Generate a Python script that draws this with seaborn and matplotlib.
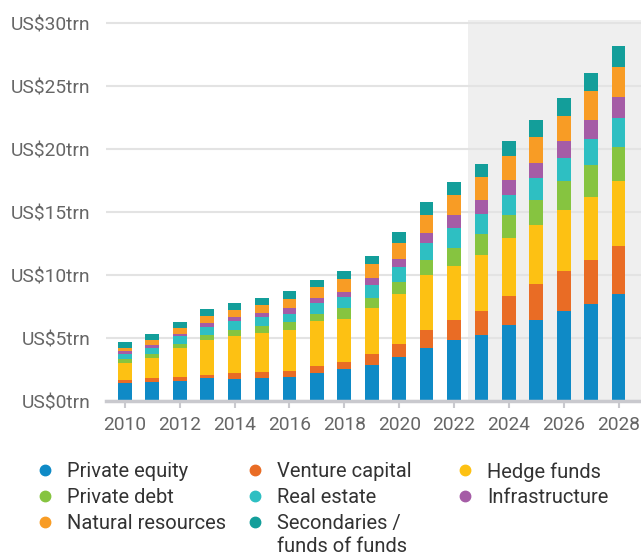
import numpy as np
import pandas as pd
import seaborn as sns
import matplotlib
matplotlib.use("Agg")
import matplotlib.pyplot as plt
from matplotlib.lines import Line2D

years = list(range(2010, 2029))
private_equity = [1.43, 1.51, 1.59, 1.83, 1.75, 1.83, 1.90, 2.22, 2.54, 2.86, 3.49, 4.21, 4.84, 5.24, 6.03, 6.43, 7.14, 7.70, 8.49]
venture_capital = [0.24, 0.32, 0.32, 0.24, 0.48, 0.48, 0.48, 0.56, 0.56, 0.87, 1.03, 1.43, 1.59, 1.90, 2.30, 2.86, 3.17, 3.49, 3.81]
hedge_funds = [1.35, 1.59, 2.30, 2.78, 2.94, 3.10, 3.25, 3.57, 3.41, 3.65, 3.97, 4.37, 4.29, 4.44, 4.60, 4.68, 4.84, 5.00, 5.16]
private_debt = [0.32, 0.32, 0.32, 0.40, 0.48, 0.56, 0.63, 0.56, 0.87, 0.79, 0.95, 1.19, 1.43, 1.67, 1.83, 1.98, 2.30, 2.54, 2.70]
real_estate = [0.40, 0.48, 0.63, 0.63, 0.71, 0.71, 0.63, 0.87, 0.87, 1.03, 1.19, 1.35, 1.59, 1.59, 1.59, 1.75, 1.83, 2.06, 2.30]
infrastructure = [0.24, 0.24, 0.16, 0.32, 0.32, 0.32, 0.48, 0.40, 0.40, 0.56, 0.63, 0.79, 1.03, 1.11, 1.19, 1.19, 1.35, 1.51, 1.67]
natural_resources = [0.26, 0.40, 0.48, 0.56, 0.56, 0.63, 0.71, 0.87, 1.03, 1.11, 1.27, 1.43, 1.59, 1.83, 1.90, 2.06, 1.98, 2.30, 2.38]
secondaries = [0.45, 0.48, 0.48, 0.56, 0.56, 0.56, 0.63, 0.56, 0.63, 0.63, 0.87, 1.03, 1.03, 1.03, 1.19, 1.35, 1.43, 1.43, 1.67]

series_names = ["Private equity", "Venture capital", "Hedge funds", "Private debt",
                "Real estate", "Infrastructure", "Natural resources",
                "Secondaries /\nfunds of funds"]
series_values = [private_equity, venture_capital, hedge_funds, private_debt,
                 real_estate, infrastructure, natural_resources, secondaries]
colors = ["#0f8ac6", "#e96c25", "#fdc113", "#86c440",
          "#2ebfc2", "#a55ca6", "#f89c25", "#139e9a"]
y_ticks = [0, 5, 10, 15, 20, 25, 30]
y_tick_labels = ["US$0trn", "US$5trn", "US$10trn", "US$15trn", "US$20trn", "US$25trn", "US$30trn"]
x_ticks = [2010, 2012, 2014, 2016, 2018, 2020, 2022, 2024, 2026, 2028]

sns.set_theme(style="white")
plt.rcParams["font.family"] = ["Roboto", "DejaVu Sans"]

df = pd.DataFrame({"year": years})
cum = np.zeros(len(years))
cum_cols = []
for i, vals in enumerate(series_values):
    cum = cum + np.array(vals)
    df[f"cum{i}"] = cum
    cum_cols.append(f"cum{i}")

W, H = 641, 555
fig = plt.figure(figsize=(W / 100, H / 100), dpi=100)
ax = fig.add_axes([106 / W, (H - 401) / H, (W - 106) / W + 0.01, (401 - 20) / H])

ax.axvspan(2022.5, 2031, color="#efefef", zorder=0, lw=0)

for i in reversed(range(len(series_values))):
    sns.barplot(data=df, x="year", y=cum_cols[i], color=colors[i], saturation=1,
                width=0.5, native_scale=True, errorbar=None, linewidth=0,
                edgecolor="none", ax=ax)

ax.set_xlim(2009.31, 2028.82 + 0.01 * W / 27.44)
ax.set_ylim(0, 30.24)
ax.set_yticks(y_ticks)
ax.set_yticklabels(y_tick_labels)
ax.set_xticks(x_ticks)
ax.set_xticklabels([str(x) for x in x_ticks])
ax.set_xlabel("")
ax.set_ylabel("")
ax.yaxis.grid(True, color="#e3e3e3", lw=1.5)
ax.xaxis.grid(False)
ax.set_axisbelow(True)
for s in ["top", "right", "left"]:
    ax.spines[s].set_visible(False)
ax.spines["bottom"].set_color("#c9c9ce")
ax.spines["bottom"].set_linewidth(2.5)
ax.tick_params(axis="y", length=0, pad=11.5, labelsize=13.8, labelcolor="#666666")
ax.tick_params(axis="x", length=5, width=1.5, color="#c9c9ce", pad=5.5,
               labelsize=13.8, labelcolor="#666666", bottom=True)

# legend, laid out in three columns
col_x = [45, 255, 465]
row_y = [470, 496, 522]
order = [[0, 3, 6], [1, 4, 7], [2, 5]]
for c, idxs in enumerate(order):
    for r, idx in enumerate(idxs):
        mx, my = col_x[c], row_y[r]
        fig.add_artist(Line2D([mx / W], [1 - my / H], marker="o", markersize=7.5,
                              color=colors[idx], lw=0, transform=fig.transFigure))
        fig.text((mx + 22) / W, 1 - (my - 8) / H, series_names[idx], ha="left",
                 va="top", fontsize=14.5, color="#333333", linespacing=1.3)

fig.savefig("out.png", dpi=100)
